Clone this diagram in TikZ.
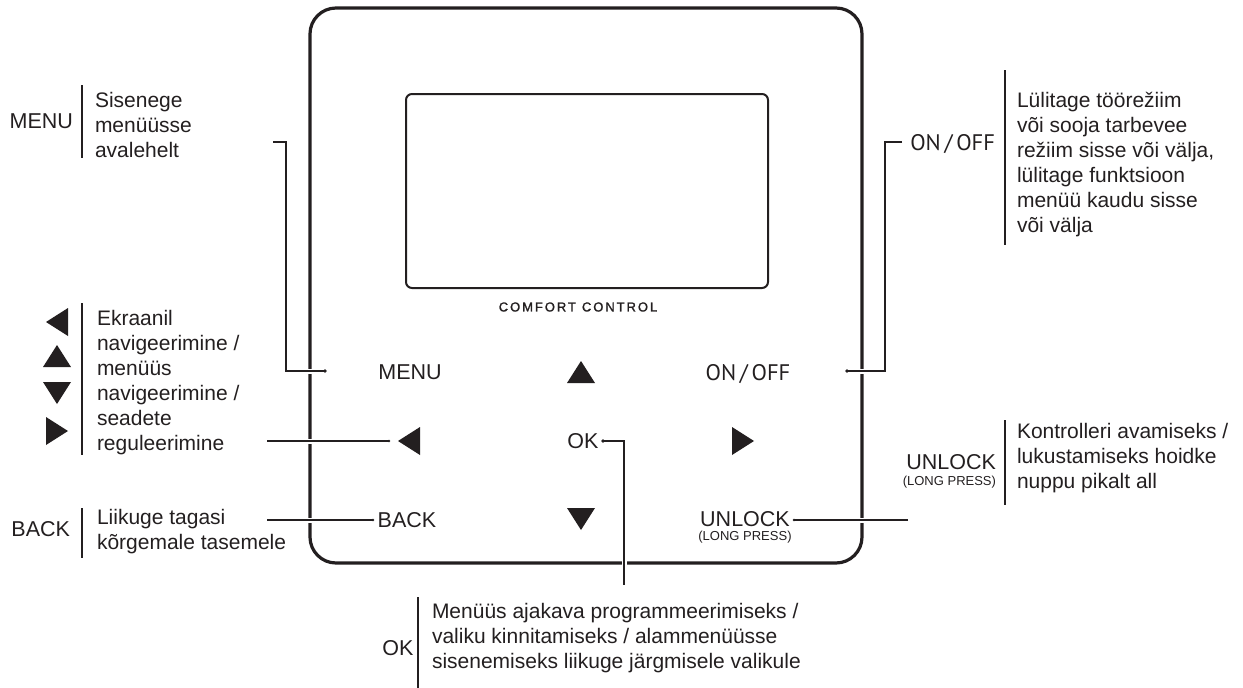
\documentclass[tikz,border=0pt]{standalone}
\usepackage{fontspec}
\setmainfont{Liberation Sans}
\newfontfamily\onofffont{PT Sans}
\newfontfamily\comfortfont[LetterSpace=15,FakeBold=1.3]{Liberation Sans}
\definecolor{ink}{HTML}{231F20}
\newcommand\myup[2]{\fill[ink] (#1-14,#2+11) -- (#1,#2-11) -- (#1+14,#2+11) -- cycle;}
\newcommand\mydown[2]{\fill[ink] (#1-14,#2-11) -- (#1,#2+11) -- (#1+14,#2-11) -- cycle;}
\newcommand\myleft[2]{\fill[ink] (#1+11,#2-14) -- (#1-11,#2) -- (#1+11,#2+14) -- cycle;}
\newcommand\myright[2]{\fill[ink] (#1-11,#2-14) -- (#1+11,#2) -- (#1-11,#2+14) -- cycle;}
\begin{document}
\begin{tikzpicture}[x=1pt,y=-1pt,
  every node/.style={inner sep=0pt, outer sep=0pt, text=ink},
  lbl/.style={font=\fontsize{21.5}{25}\selectfont},
  onoff/.style={font=\onofffont\fontsize{22.5}{25}\selectfont},
  desc/.style={font=\fontsize{21}{25}\selectfont, align=left, anchor=north west},
  small/.style={font=\fontsize{13}{14}\selectfont},
  bar/.style={draw=ink, line width=1.6pt},
  conn/.style={draw=ink, line width=1.2pt, preaction={draw=white, line width=5pt}},
  connb/.style={draw=ink, line width=1.8pt, preaction={draw=white, line width=5pt}},
  dot/.style={fill=ink},
]
\useasboundingbox (0,0) rectangle (1243,688);

% device
\draw[ink, line width=3.2pt, rounded corners=26pt] (310,8) rectangle (862,563);
\draw[ink, line width=2pt, rounded corners=6pt] (406,94) rectangle (768,288);
\node[font=\comfortfont\fontsize{13}{14}\selectfont] (comfort) at (578,307) {COMFORT\hspace{6pt}CONTROL};

% inner buttons
\node[lbl] (menuI) at (410,372) {MENU};
\myup{581}{372}
\node[onoff, anchor=base] (onoffI) at (748,380) {ON\,/\,OFF};
\myleft{409}{441}
\node[lbl] (okI) at (583,441) {OK};
\myright{743}{441}
\node[lbl] (backI) at (407,520) {BACK};
\mydown{581}{519}
\node[lbl] (unlockI) at (745,519) {UNLOCK};
\node[small, anchor=north] (unlockIs) at (745,531) {(LONG PRESS)};

% left legends
\node[lbl, anchor=east] (menuL) at (73,121) {MENU};
\draw[bar] (82,85) -- (82,158);
\node[desc] (menuD) at (95,92) {Sisenege\\menüüsse\\avalehelt};

\myleft{57}{322}
\myup{57}{356}
\mydown{57}{393}
\myright{57}{431}
\draw[bar] (82,303) -- (82,455);
\node[desc] (arrowsD) at (97,310) {Ekraanil\\navigeerimine /\\menüüs\\navigeerimine /\\seadete\\reguleerimine};

\node[lbl, anchor=east] (backL) at (70,529) {BACK};
\draw[bar] (82,508) -- (82,558);
\node[desc] (backD) at (97,509) {Liikuge tagasi\\kõrgemale tasemele};

% right legends
\node[onoff, anchor=base east] (onoffR) at (995,150) {ON\,/\,OFF};
\draw[bar] (1005,70) -- (1005,245);
\node[desc] (onoffD) at (1017,92) {Lülitage töörežiim\\või sooja tarbevee\\režiim sisse või välja,\\lülitage funktsioon\\menüü kaudu sisse\\või välja};

\node[lbl, anchor=east] (unlockR) at (996,462) {UNLOCK};
\node[small, anchor=north east] (unlockRs) at (996,476) {(LONG PRESS)};
\draw[bar] (1005,420) -- (1005,505);
\node[desc] (unlockD) at (1017,423) {Kontrolleri avamiseks /\\lukustamiseks hoidke\\nuppu pikalt all};

% bottom legend
\node[lbl] (okL) at (398,648) {OK};
\draw[bar] (418,597) -- (418,690);
\node[desc] (okD) at (432,603) {Menüüs ajakava programmeerimiseks /\\valiku kinnitamiseks / alammenüüsse\\sisenemiseks liikuge järgmisele valikule};

% connectors
\coordinate (menuA) at (273,142);
\coordinate (menuB) at (325,371);
\draw[conn] (menuA) -- (286,142) |- (menuB);
\fill[dot] (menuB) circle (1.9);

\coordinate (onoffA) at (902,142);
\coordinate (onoffB) at (847,371);
\draw[conn] (onoffA) -- (885,142) |- (onoffB);
\fill[dot] (onoffB) circle (1.9);

\coordinate (arrA) at (267,441);
\coordinate (arrB) at (389,441);
\draw[connb] (arrA) -- (arrB);
\fill[dot] (arrB) circle (1.4);

\coordinate (backA) at (267,520);
\coordinate (backB) at (373,520);
\draw[connb] (backA) -- (backB);
\fill[dot] (backB) circle (1.4);

\coordinate (unlA) at (908,520);
\coordinate (unlB) at (794,520);
\draw[connb] (unlA) -- (unlB);
\fill[dot] (unlB) circle (1.4);

\coordinate (okA) at (603,441);
\coordinate (okB) at (624,585);
\draw[conn] (okA) -| (okB);
\fill[dot] (okA) circle (1.9);
\end{tikzpicture}
\end{document}
